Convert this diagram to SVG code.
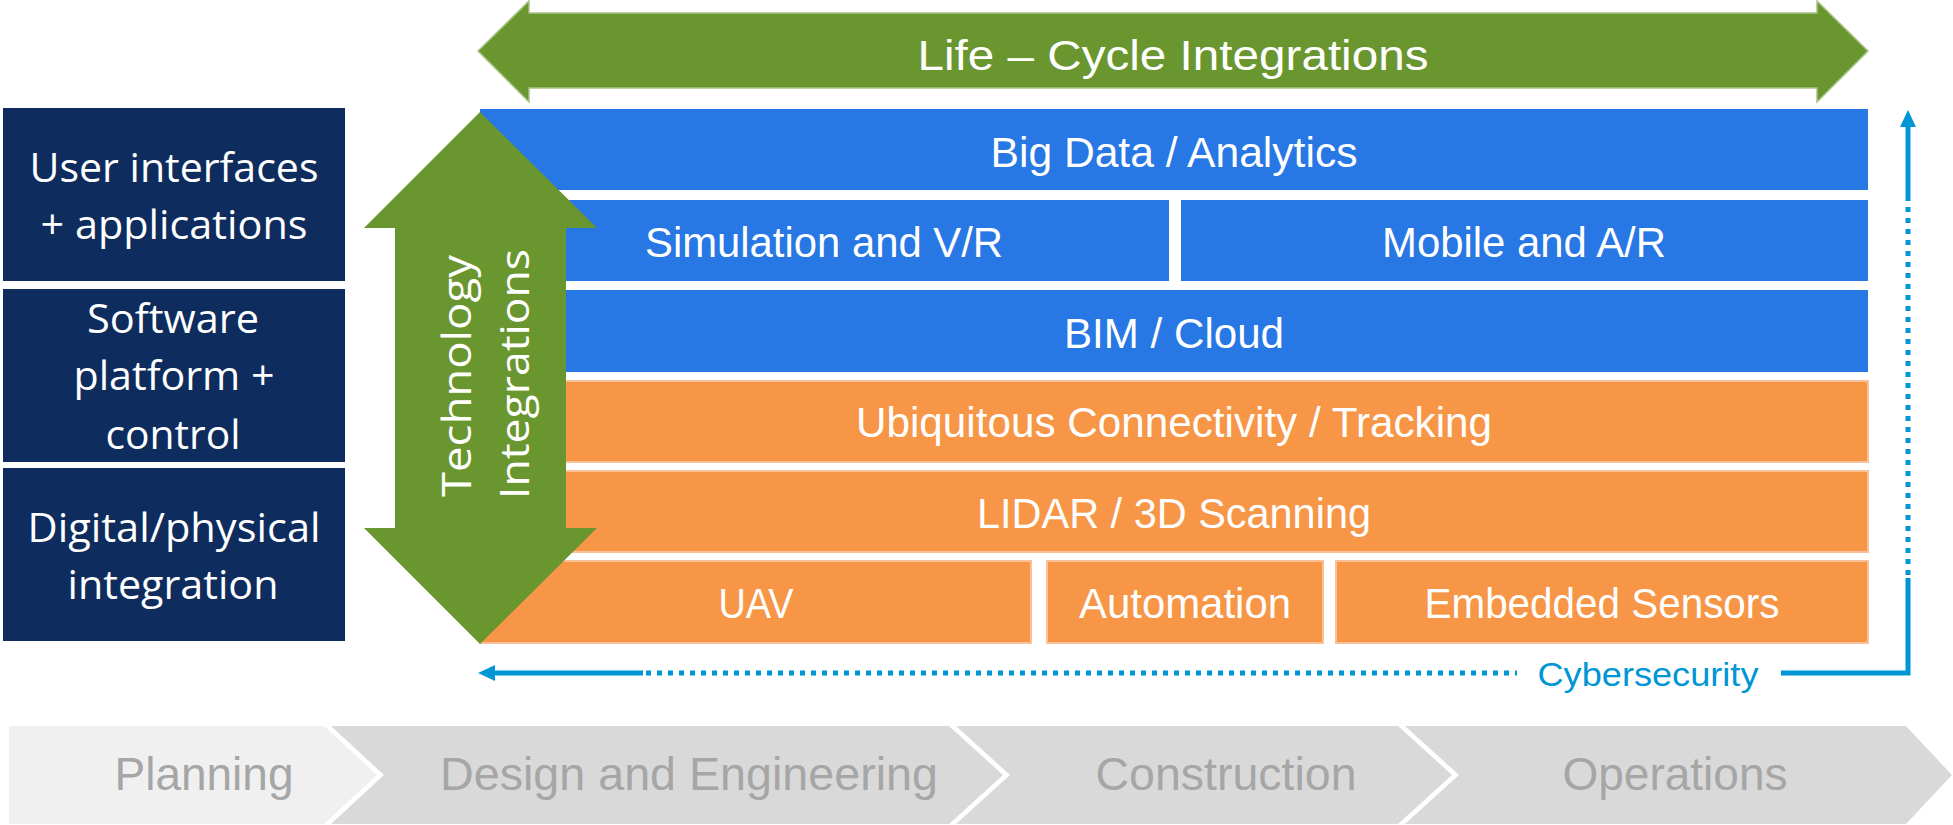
<svg xmlns="http://www.w3.org/2000/svg" width="1953" height="825" viewBox="0 0 1953 825">
  <defs>
    <style>
      .navy { fill: #0e2d5e; }
      .blue { fill: #2777e4; }
      .orange { fill: #f79646; stroke: #fac097; stroke-width: 2; }
      .green { fill: #6a962f; }
      .lbl { font-family: "Open Sans", "Liberation Sans", sans-serif; font-size: 41px; fill: #ffffff; text-anchor: middle; }
      .row { font-family: "Liberation Sans", Arial, sans-serif; font-size: 42px; fill: #ffffff; text-anchor: middle; }
      .phase { font-family: "Liberation Sans", Arial, sans-serif; font-size: 47px; fill: #a6a6a6; text-anchor: middle; }
      .cyber { font-family: "Liberation Sans", Arial, sans-serif; font-size: 33px; fill: #0096d6; text-anchor: middle; }
      .line { fill: none; stroke: #0096d6; stroke-width: 5; }
      .dots { fill: none; stroke: #0096d6; stroke-width: 5; stroke-dasharray: 5 6; }
    </style>
  </defs>

  <!-- left stack labels -->
  <g id="layer-ui">
    <rect class="navy" x="3" y="108" width="342" height="173"/>
    <text class="lbl" x="174" y="182" textLength="289" lengthAdjust="spacingAndGlyphs">User interfaces</text>
    <text class="lbl" x="174" y="239" textLength="267" lengthAdjust="spacingAndGlyphs">+ applications</text>
  </g>
  <g id="layer-platform">
    <rect class="navy" x="3" y="289" width="342" height="173"/>
    <text class="lbl" x="173" y="333" textLength="172" lengthAdjust="spacingAndGlyphs">Software</text>
    <text class="lbl" x="174" y="390" textLength="201" lengthAdjust="spacingAndGlyphs">platform +</text>
    <text class="lbl" x="173" y="449" textLength="135" lengthAdjust="spacingAndGlyphs">control</text>
  </g>
  <g id="layer-physical">
    <rect class="navy" x="3" y="468" width="342" height="173"/>
    <text class="lbl" x="174" y="542" textLength="293" lengthAdjust="spacingAndGlyphs">Digital/physical</text>
    <text class="lbl" x="173" y="599" textLength="211" lengthAdjust="spacingAndGlyphs">integration</text>
  </g>

  <!-- technology rows -->
  <g id="big-data">
    <rect class="blue" x="480" y="109" width="1388" height="81"/>
    <text class="row" x="1174" y="167" textLength="367" lengthAdjust="spacingAndGlyphs">Big Data / Analytics</text>
  </g>
  <g id="simulation">
    <rect class="blue" x="480" y="200" width="689" height="81"/>
    <text class="row" x="824" y="257" textLength="358" lengthAdjust="spacingAndGlyphs">Simulation and V/R</text>
  </g>
  <g id="mobile">
    <rect class="blue" x="1181" y="200" width="687" height="81"/>
    <text class="row" x="1524" y="257" textLength="284" lengthAdjust="spacingAndGlyphs">Mobile and A/R</text>
  </g>
  <g id="bim-cloud">
    <rect class="blue" x="480" y="290" width="1388" height="82"/>
    <text class="row" x="1174" y="348" textLength="220" lengthAdjust="spacingAndGlyphs">BIM / Cloud</text>
  </g>
  <g id="connectivity">
    <rect class="orange" x="480" y="381" width="1388" height="81"/>
    <text class="row" x="1174" y="437" textLength="636" lengthAdjust="spacingAndGlyphs">Ubiquitous Connectivity / Tracking</text>
  </g>
  <g id="lidar">
    <rect class="orange" x="480" y="471" width="1388" height="81"/>
    <text class="row" x="1174" y="528" textLength="394" lengthAdjust="spacingAndGlyphs">LIDAR / 3D Scanning</text>
  </g>
  <g id="uav">
    <rect class="orange" x="480" y="561" width="551" height="82"/>
    <text class="row" x="756" y="618" textLength="75" lengthAdjust="spacingAndGlyphs">UAV</text>
  </g>
  <g id="automation">
    <rect class="orange" x="1047" y="561" width="276" height="82"/>
    <text class="row" x="1185" y="618" textLength="212" lengthAdjust="spacingAndGlyphs">Automation</text>
  </g>
  <g id="sensors">
    <rect class="orange" x="1336" y="561" width="532" height="82"/>
    <text class="row" x="1602" y="618" textLength="355" lengthAdjust="spacingAndGlyphs">Embedded Sensors</text>
  </g>

  <!-- horizontal double arrow -->
  <g id="life-cycle">
    <polygon class="green" stroke="#a9c487" stroke-width="1.5" points="478,51 529,1 529,13 1817,13 1817,1 1868,51 1817,102 1817,88 529,88 529,102"/>
    <text class="row" x="1173" y="70" font-size="49" textLength="511" lengthAdjust="spacingAndGlyphs">Life – Cycle Integrations</text>
  </g>

  <!-- vertical double arrow -->
  <g id="technology">
    <polygon class="green" points="480,112 597,228 566,228 566,528 597,528 480,644 364,528 395,528 395,228 364,228"/>
    <g transform="translate(471,376) rotate(-90)">
      <text class="lbl" x="0" y="0" font-size="50" textLength="242" lengthAdjust="spacingAndGlyphs">Technology</text>
    </g>
    <g transform="translate(529,374) rotate(-90)">
      <text class="lbl" x="0" y="0" font-size="50" textLength="250" lengthAdjust="spacingAndGlyphs">Integrations</text>
    </g>
  </g>

  <!-- cybersecurity loop -->
  <g id="connectors">
    <path class="line" d="M492,673 H643"/>
    <path class="dots" d="M646,673 H1517"/>
    <path class="line" d="M1781,673 H1908 V578"/>
    <path class="dots" d="M1908,575 V200"/>
    <path class="line" d="M1908,200 V124"/>
    <polygon fill="#0096d6" points="478,673 495,665 495,681"/>
    <polygon fill="#0096d6" points="1908,110 1900,127 1916,127"/>
  </g>
  <g id="cybersecurity">
    <text class="cyber" x="1648" y="686" textLength="221" lengthAdjust="spacingAndGlyphs">Cybersecurity</text>
  </g>

  <!-- project phases -->
  <g id="phase-planning">
    <polygon fill="#f0f0f0" points="9,726 324,726 377,775 324,824 9,824"/>
    <text class="phase" x="204" y="790" textLength="179" lengthAdjust="spacingAndGlyphs">Planning</text>
  </g>
  <g id="phase-design">
    <polygon fill="#d9d9d9" points="331,726 949,726 1003,775 949,824 331,824 384,775"/>
    <text class="phase" x="689" y="790" textLength="498" lengthAdjust="spacingAndGlyphs">Design and Engineering</text>
  </g>
  <g id="phase-construction">
    <polygon fill="#d9d9d9" points="956,726 1398,726 1452,775 1398,824 956,824 1010,775"/>
    <text class="phase" x="1226" y="790" textLength="261" lengthAdjust="spacingAndGlyphs">Construction</text>
  </g>
  <g id="phase-operations">
    <polygon fill="#d9d9d9" points="1405,726 1906,726 1952,775 1906,824 1405,824 1459,775"/>
    <text class="phase" x="1675" y="790" textLength="225" lengthAdjust="spacingAndGlyphs">Operations</text>
  </g>
</svg>
